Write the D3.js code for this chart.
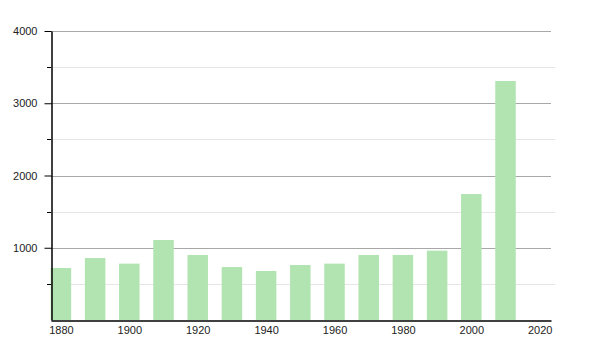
<!DOCTYPE html>
<html>
<head>
<meta charset="utf-8">
<script src="https://d3js.org/d3.v7.min.js"></script>
<style>
    body { margin: 0; background: #fff; }
    svg { display: block; }
    text { font-family: "Liberation Sans", Arial, sans-serif; font-size: 11px; fill: #222; }
</style>
</head>
<body>
<script>
    var years = [1880, 1890, 1900, 1910, 1920, 1930, 1940, 1950, 1960, 1970, 1980, 1990, 2000, 2010];
    var population = [720, 858, 780, 1107, 900, 733, 678, 761, 780, 900, 900, 960, 1744, 3308];
    var yearTicks = [1880, 1900, 1920, 1940, 1960, 1980, 2000, 2020];
    var valueTicks = [1000, 2000, 3000, 4000];
    var minorTicks = [500, 1500, 2500, 3500];

    var plotLeft = 51, plotRight = 551, plotTop = 31, plotBottom = 320;

    var svg = d3.select("body").append("svg")
        .attr("width", 600)
        .attr("height", 350);

    var x = d3.scaleLinear().domain([1877.1, 2023.3]).range([plotLeft, plotRight]);
    var y = d3.scaleLinear().domain([0, 4000]).range([plotBottom, plotTop]);

    // minor grid
    svg.selectAll(".minor").data(minorTicks).enter().append("line")
        .attr("x1", plotLeft).attr("x2", plotRight + 4)
        .attr("y1", function (d) { return Math.round(y(d)) + 0.5; })
        .attr("y2", function (d) { return Math.round(y(d)) + 0.5; })
        .attr("stroke", "#e6e6e6");

    // major grid
    svg.selectAll(".major").data(valueTicks).enter().append("line")
        .attr("x1", plotLeft).attr("x2", plotRight)
        .attr("y1", function (d) { return Math.round(y(d)) + 0.5; })
        .attr("y2", function (d) { return Math.round(y(d)) + 0.5; })
        .attr("stroke", "#a8a8a8");

    var barW = 20.5;
    svg.selectAll(".bar").data(population).enter().append("rect")
        .attr("x", function (d, i) { return x(years[i]) - barW / 2; })
        .attr("y", function (d) { return y(d); })
        .attr("width", barW)
        .attr("height", function (d) { return plotBottom - y(d); })
        .attr("fill", "#b1e4b1");

    // y axis
    var yAxis = d3.axisLeft(y).tickValues(valueTicks).tickFormat(d3.format("d"))
        .tickSize(7).tickSizeOuter(0).tickPadding(7);
    svg.append("g").attr("transform", "translate(" + (plotLeft + 0.5) + ",0)").call(yAxis);
    svg.selectAll(".ytickminor").data(minorTicks).enter().append("line")
        .attr("x1", plotLeft - 4).attr("x2", plotLeft)
        .attr("y1", function (d) { return Math.round(y(d)) + 0.5; })
        .attr("y2", function (d) { return Math.round(y(d)) + 0.5; })
        .attr("stroke", "#000");

    // x axis
    var xAxis = d3.axisBottom(x).tickValues(yearTicks).tickFormat(d3.format("d"))
        .tickSize(0).tickSizeOuter(0).tickPadding(6);
    svg.append("g").attr("transform", "translate(0," + (plotBottom + 0.5) + ")").call(xAxis);

    svg.selectAll(".domain").attr("stroke", "#000").attr("stroke-width", 1.5);
    svg.selectAll(".tick line").attr("stroke", "#000");
    svg.selectAll(".tick text").style("font-size", "11px").attr("fill", "#222");
</script>
</body>
</html>
